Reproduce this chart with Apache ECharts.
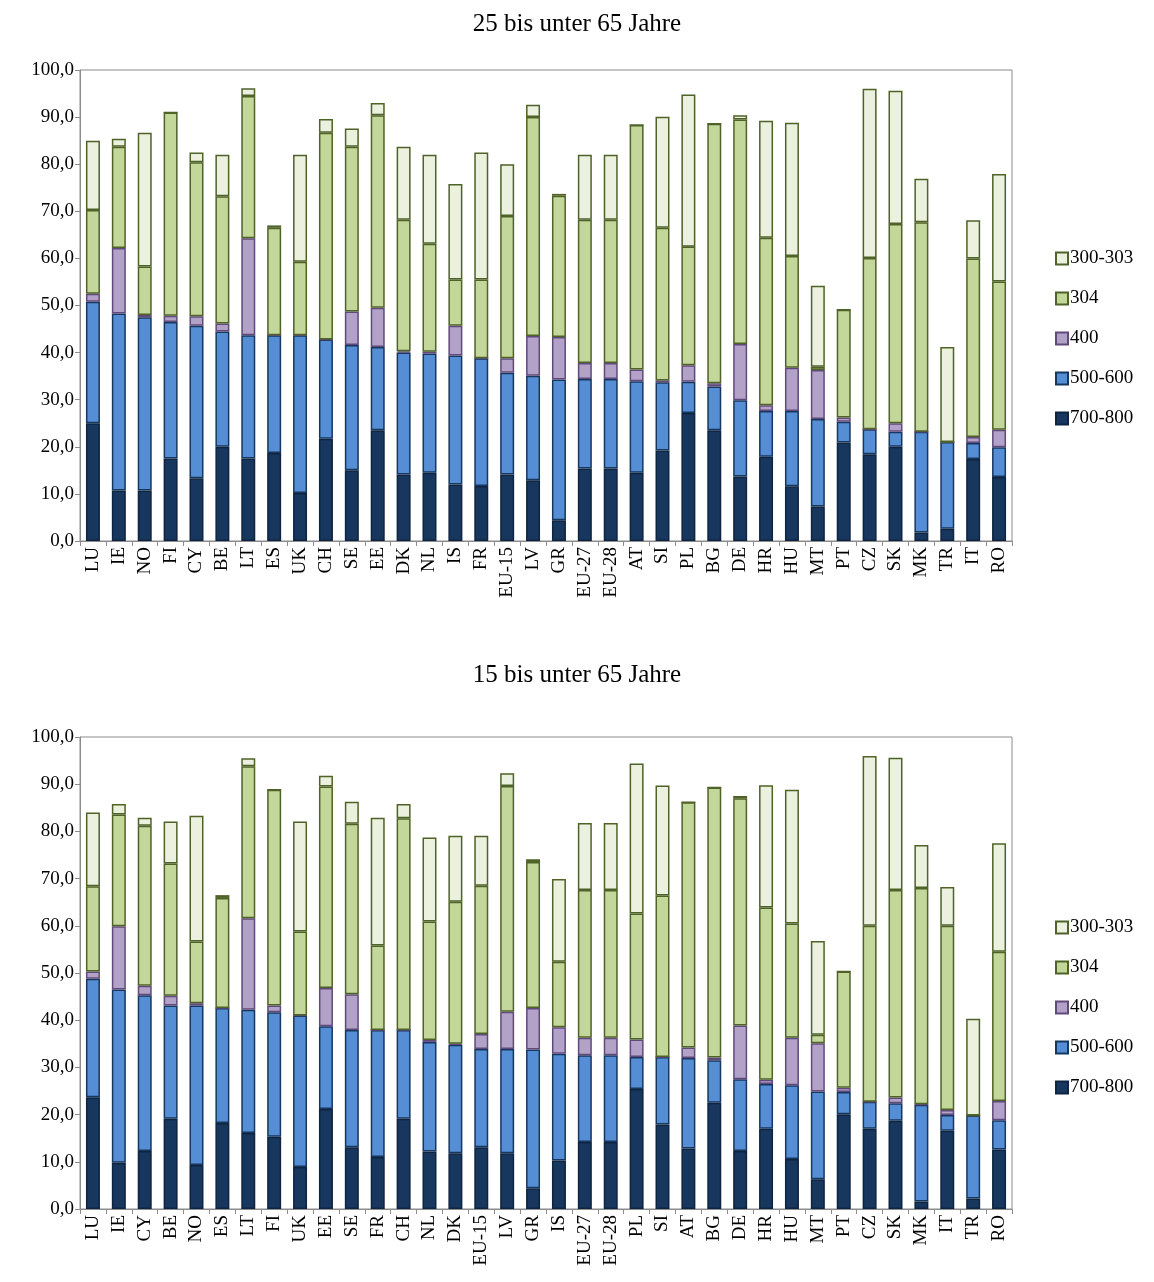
<!DOCTYPE html>
<html>
<head>
<meta charset="utf-8">
<script src="https://cdn.jsdelivr.net/npm/echarts@6/dist/echarts.min.js"></script>
<style>html,body{margin:0;padding:0;background:#fff}#chart{width:1154px;height:1282px}</style>
</head>
<body>
<div id="chart"></div>
<script>
// Obere Grafik: 25 bis unter 65 Jahre
var catsA = ['LU','IE','NO','FI','CY','BE','LT','ES','UK','CH','SE','EE','DK','NL','IS','FR','EU-15','LV','GR','EU-27','EU-28','AT','SI','PL','BG','DE','HR','HU','MT','PT','CZ','SK','MK','TR','IT','RO'];
// kumulierte Oberkanten je Segment
var topA_700 = [25,10.7,10.7,17.5,13.3,20,17.5,18.7,10.2,21.7,15,23.5,14.1,14.5,12,11.7,14.1,12.9,4.4,15.4,15.4,14.5,19.2,27.2,23.5,13.7,17.9,11.6,7.3,20.9,18.4,20,1.8,2.6,17.4,13.6];
var topA_500 = [50.8,48.3,47.5,46.5,45.7,44.5,43.7,43.7,43.7,42.8,41.6,41.2,40,39.8,39.4,38.8,35.7,35.1,34.3,34.4,34.4,33.9,33.7,33.8,32.8,29.9,27.6,27.6,25.9,25.3,23.7,23.2,23.2,21,20.8,19.9];
var topA_400 = [52.5,62.2,48,47.8,47.7,46.2,64.3,43.7,43.7,42.8,48.7,49.5,40.3,40.2,45.7,38.8,38.8,43.5,43.3,37.8,37.8,36.4,34.1,37.3,33.5,41.8,28.8,36.8,36.3,26.2,23.7,25,23.2,21,22.1,23.6];
var topA_304 = [70.3,83.7,58.3,91,80.4,73.2,94.5,66.5,59.3,86.7,83.7,90.4,68.2,63.1,55.5,55.5,69,90,73.3,68.2,68.2,88.3,66.5,62.5,88.6,89.5,64.4,60.5,37,49.1,60.1,67.3,67.7,21,60,55.1];
var topA_300 = [85,85.4,86.7,91,82.5,82,96.1,67,82,89.6,87.6,93,83.7,82,75.8,82.5,80,92.6,73.7,82,82,88.3,90.1,94.8,88.6,90.4,89.2,88.8,54.2,49.1,96,95.6,76.9,41.2,68.1,77.9];

// Untere Grafik: 15 bis unter 65 Jahre
var catsB = ['LU','IE','CY','BE','NO','ES','LT','FI','UK','EE','SE','FR','CH','NL','DK','EU-15','LV','GR','IS','EU-27','EU-28','PL','SI','AT','BG','DE','HR','HU','MT','PT','CZ','SK','MK','IT','TR','RO'];
var topB_700 = [23.7,9.8,12.3,19.1,9.3,18.2,16.1,15.3,8.9,21.2,13.1,11,19.1,12.2,11.8,13.1,11.8,4.4,10.3,14.2,14.2,25.4,17.9,12.8,22.5,12.3,17,10.6,6.3,20.1,17,18.7,1.6,16.6,2.2,12.6];
var topB_500 = [48.8,46.5,45.3,43.1,43.1,42.6,42.2,41.7,41,38.7,37.9,37.9,37.9,35.4,34.8,33.9,33.9,33.8,32.9,32.6,32.6,32.2,32.2,32,31.5,27.5,26.5,26.2,24.9,24.8,22.7,22.4,22.1,19.9,19.8,18.8];
var topB_400 = [50.3,59.9,47.3,45.2,43.6,42.6,61.6,43.1,41,46.8,45.5,37.9,37.9,35.8,35,37.1,41.8,42.6,38.5,36.3,36.3,35.9,32.2,34.2,32.1,38.9,27.4,36.3,35.1,25.7,22.7,23.6,22.2,21,19.8,22.9];
var topB_304 = [68.4,83.6,81.2,73.2,56.7,65.9,93.8,88.8,58.8,89.5,81.6,55.8,82.8,60.9,65.1,68.5,89.6,73.5,52.4,67.6,67.6,62.6,66.4,86.2,89.3,87,63.9,60.5,36.9,50.3,60,67.6,68,60,19.8,54.5];
var topB_300 = [84,85.8,82.9,82.1,83.3,66.5,95.5,88.8,82.1,91.8,86.3,82.9,85.8,78.7,79.1,79.1,92.3,74.1,69.9,81.8,81.8,94.4,89.7,86.2,89.3,87.5,89.8,88.8,56.8,50.3,96,95.6,77.1,68.2,40.3,77.5];

var names = ['700-800','500-600','400','304','300-303'];
var fills = ['#17375e','#558ed5','#b3a2c7','#c4d79b','#ebf1de'];
var borders = ['#0f2440','#17375e','#604a7b','#4f6228','#4f6228'];

function segs(tops) {
	var out = [];
	for (var s = 0; s < tops.length; s++) {
		out.push(tops[s].map(function(v, i) {
			var prev = s === 0 ? 0 : tops[s - 1][i];
			return Math.max(0, +(v - prev).toFixed(2));
		}));
	}
	return out;
}

var dataA = segs([topA_700, topA_500, topA_400, topA_304, topA_300]);
var dataB = segs([topB_700, topB_500, topB_400, topB_304, topB_300]);

var font = 'Liberation Serif, Times New Roman, serif';
var series = [];
[dataA, dataB].forEach(function(d, g) {
	for (var s = 0; s < 5; s++) {
		series.push({
			name: names[s],
			type: 'bar',
			stack: 'g' + g,
			xAxisIndex: g,
			yAxisIndex: g,
			barWidth: '54%',
			itemStyle: { color: fills[s], borderColor: borders[s], borderWidth: 1.5 },
			data: d[s]
		});
	}
});

function xAx(cats, g) {
	return {
		type: 'category', gridIndex: g, data: cats,
		axisLine: { lineStyle: { color: '#8c8c8c' } },
		axisTick: { show: true, length: 5, lineStyle: { color: '#8c8c8c' } },
		axisLabel: { rotate: 90, color: '#000', fontFamily: font, fontSize: 19, interval: 0, margin: 6 }
	};
}
function yAx(g) {
	return {
		type: 'value', gridIndex: g, min: 0, max: 100, interval: 10,
		axisLine: { show: true, lineStyle: { color: '#8c8c8c' } },
		axisTick: { show: true, length: 5, lineStyle: { color: '#8c8c8c' } },
		splitLine: { show: false },
		axisLabel: { color: '#000', fontFamily: font, fontSize: 19, margin: 6, formatter: function(v) { return v.toFixed(1).replace('.', ','); } }
	};
}
var legendData = ['300-303','304','400','500-600','700-800'];
function leg(top) {
	return {
		orient: 'vertical', left: 1050, top: top, itemGap: 21, itemWidth: 12, itemHeight: 12,
		data: legendData, icon: 'rect',
		textStyle: { fontFamily: font, fontSize: 19, color: '#000', padding: [0, 0, 0, -3] }
	};
}

var option = {
	animation: false,
	title: [
		{ text: '25 bis unter 65 Jahre', left: 'center', top: 7, textStyle: { fontFamily: font, fontSize: 25, fontWeight: 'normal', color: '#000' } },
		{ text: '15 bis unter 65 Jahre', left: 'center', top: 658, textStyle: { fontFamily: font, fontSize: 25, fontWeight: 'normal', color: '#000' } }
	],
	legend: [leg(244), leg(913)],
	grid: [
		{ left: 80, width: 932, top: 70, height: 471, show: true, borderColor: '#8c8c8c', borderWidth: 1 },
		{ left: 80, width: 932, top: 737, height: 472, show: true, borderColor: '#8c8c8c', borderWidth: 1 }
	],
	xAxis: [xAx(catsA, 0), xAx(catsB, 1)],
	yAxis: [yAx(0), yAx(1)],
	series: series
};
var chart = echarts.init(document.getElementById('chart'));
chart.setOption(option);
</script>
</body>
</html>
